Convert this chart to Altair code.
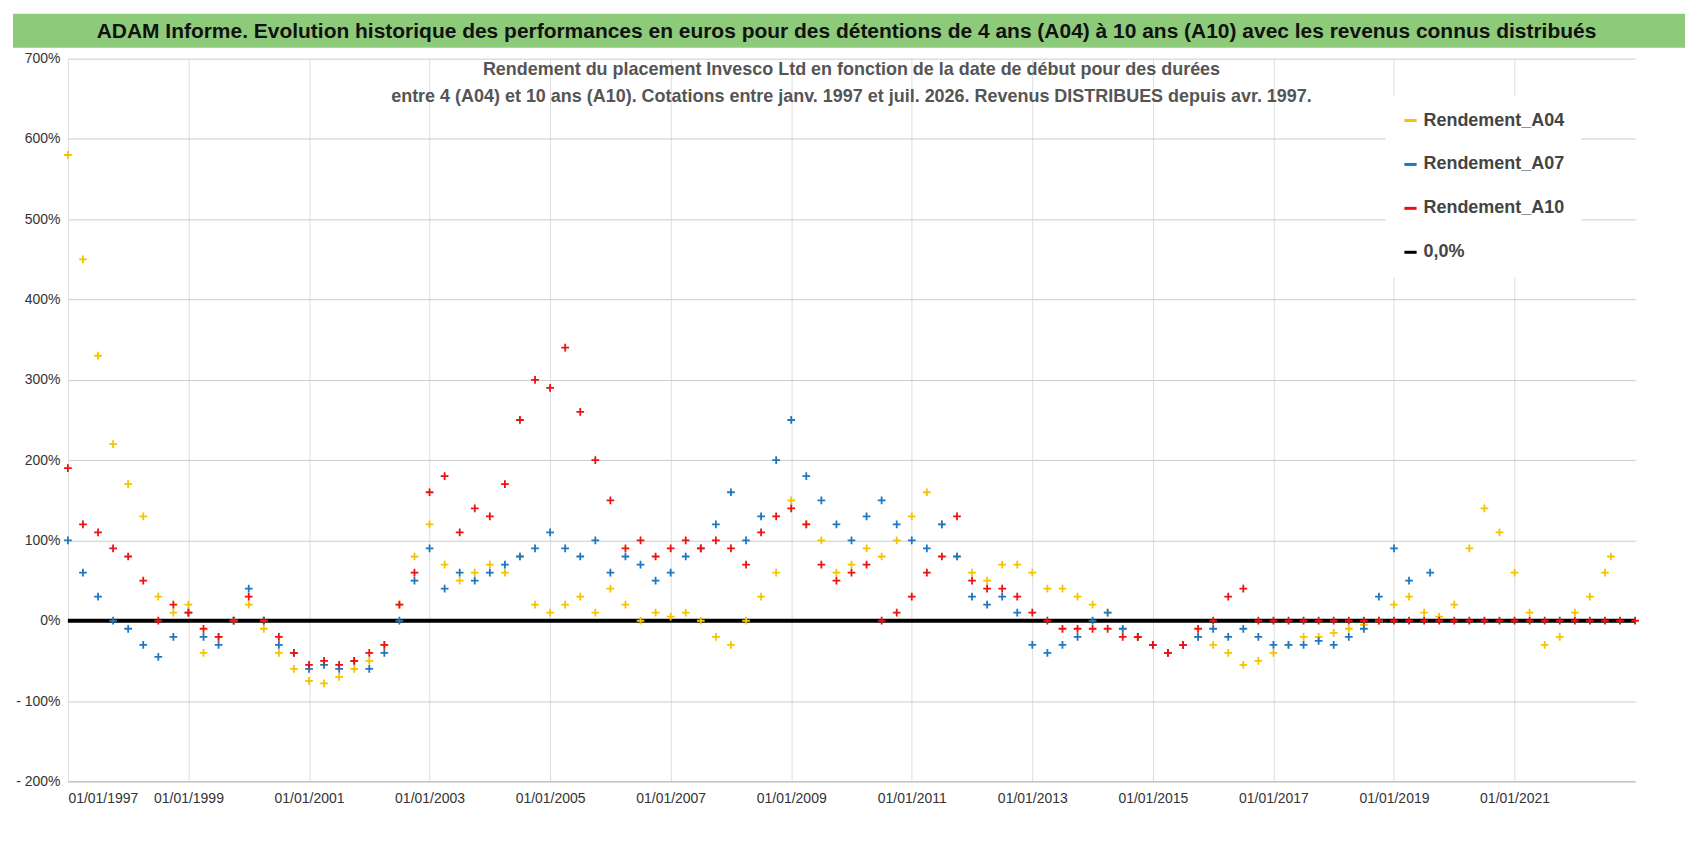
import altair as alt
import pandas as pd

a04_t = [1997.0+0.25*i for i in range(103)] + [2022.6]
a04_v = [580,450,330,220,170,130,30,10,20,-40,-20,0,20,-10,-40,-60,-75,-78,-70,-60,-50,-30,20,80,120,70,50,60,70,60,80,20,10,20,30,10,40,20,0,10,5,10,0,-20,-30,0,30,60,150,120,100,60,70,90,80,100,130,160,120,80,60,50,70,70,60,40,40,30,20,10,-10,-20,-30,-40,-30,-20,-30,-40,-55,-50,-40,-30,-20,-20,-15,-10,-5,0,20,30,10,5,20,90,140,110,60,10,-30,-20,10,30,60,80]
a07_t = [1997.0+0.25*i for i in range(90)] + [2019.6]
a07_v = [100,60,30,0,-10,-30,-45,-20,10,-20,-30,0,40,0,-30,-40,-60,-55,-60,-50,-60,-40,0,50,90,40,60,50,60,70,80,90,110,90,80,100,60,80,70,50,60,80,90,120,160,100,130,200,250,180,150,120,100,130,150,120,100,90,120,80,30,20,30,10,-30,-40,-30,-20,0,10,-10,-20,-30,-40,-30,-20,-10,-20,-10,-20,-30,-30,-30,-25,-30,-20,-10,30,90,50,60,80]
a10_t = [1997.0+0.25*i for i in range(79)]
a10_v = [190,120,110,90,80,50,0,20,10,-10,-20,0,30,0,-20,-40,-55,-50,-55,-50,-40,-30,20,60,160,180,110,140,130,170,250,300,290,340,260,200,150,90,100,80,90,100,90,100,90,70,110,130,140,120,70,50,60,70,0,10,30,60,80,130,50,40,40,30,10,0,-10,-10,-10,-10,-20,-20,-30,-40,-30,-10,0,30,40]
a10_t += [2016.75+0.25*i for i in range(26)]
a10_v += [0]*26

rows = []
for name, ts, vs in [("Rendement_A04", a04_t, a04_v), ("Rendement_A07", a07_t, a07_v), ("Rendement_A10", a10_t, a10_v)]:
    rows += [{"t": t, "v": v, "s": name} for t, v in zip(ts, vs)]
df = pd.DataFrame(rows)

FONT = "Liberation Sans"
ticks = list(range(1997, 2022, 2))
dom = ["Rendement_A04", "Rendement_A07", "Rendement_A10", "0,0%"]
rng = ["#F5C400", "#1F77C0", "#EE1111", "#000000"]
color = alt.Color("s:N", scale=alt.Scale(domain=dom, range=rng),
                  legend=alt.Legend(title=None, orient="none", legendX=1320, legendY=82,
                                    fillColor="white", padding=16, labelFontSize=18,
                                    labelColor="#444", labelFont=FONT, labelFontWeight="bold",
                                    rowPadding=26, symbolSize=150, symbolStrokeWidth=3))

x = alt.X("t:Q", scale=alt.Scale(domain=[1997, 2023], nice=False, zero=False),
          axis=alt.Axis(values=ticks, labelExpr="'01/01/' + datum.value", title=None,
                        labelFontSize=14, labelColor="#333", gridColor="#ddd", tickSize=0,
                        labelPadding=10, domainColor="#bbb"))
y = alt.Y("v:Q", scale=alt.Scale(domain=[-200, 700], nice=False),
          axis=alt.Axis(values=list(range(-200, 701, 100)),
                        labelExpr="(datum.value < 0 ? '- ' + (-datum.value) : datum.value) + '%'",
                        title=None, labelFontSize=14, labelColor="#333", gridColor="#ccc",
                        tickSize=0, domain=False, labelPadding=8))

pts = alt.Chart(df).mark_point(shape="M-1,0L1,0M0,-1L0,1", filled=False, size=60, strokeWidth=1.8, opacity=1).encode(x=x, y=y, color=color)
zero = alt.Chart(pd.DataFrame({"t": [1997], "t2": [2023], "v": [0], "s": ["0,0%"]})).mark_rule(strokeWidth=4).encode(x=x, x2="t2:Q", y=y, color=color)

main = alt.layer(zero, pts).properties(
    width=1570, height=724,
    title=alt.TitleParams(["Rendement du placement Invesco Ltd en fonction de la date de début pour des durées",
                           "entre 4 (A04) et 10 ans (A10).  Cotations entre janv. 1997 et juil. 2026. Revenus DISTRIBUES depuis avr. 1997."],
                          fontSize=18, font=FONT, fontWeight="bold", color="#555",
                          dy=58, anchor="middle", lineHeight=27))

bdf = pd.DataFrame({"txt": ["ADAM Informe. Evolution historique des performances en euros pour des détentions de 4 ans (A04) à 10 ans (A10) avec les revenus connus distribués"]})
bg = alt.Chart(bdf).mark_rect(color="#8DCB7A").encode(x=alt.value(-55), x2=alt.value(1620), y=alt.value(0), y2=alt.value(34))
txt = alt.Chart(bdf).mark_text(fontSize=21, fontWeight="bold", font=FONT, color="#111").encode(
    text="txt:N", x=alt.value(780), y=alt.value(18))
banner = alt.layer(bg, txt).properties(width=1570, height=34)

chart = alt.vconcat(banner, main, spacing=4).configure_view(stroke=None)
chart.save("out.html", embed_options={"renderer": "svg", "actions": False})
